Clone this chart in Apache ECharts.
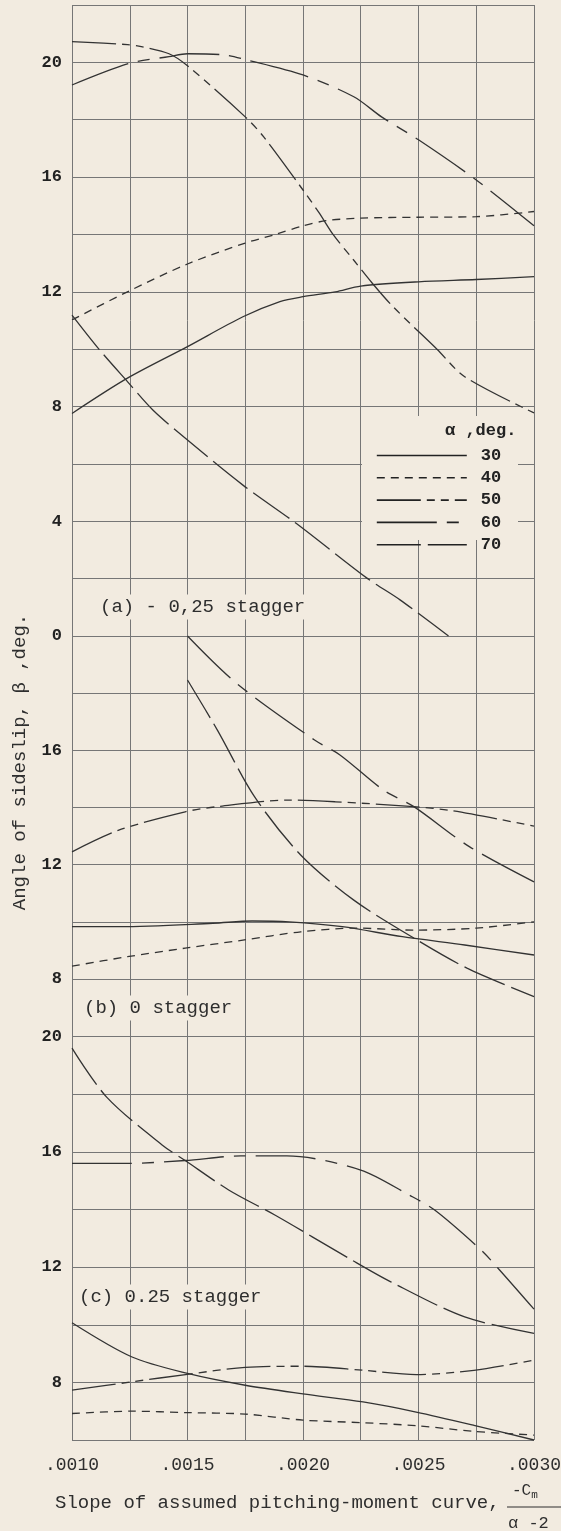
<!DOCTYPE html>
<html>
<head>
<meta charset="utf-8">
<script src="https://cdn.jsdelivr.net/npm/echarts@6/dist/echarts.min.js"></script>
<style>
html,body{margin:0;padding:0;background:#f2ebe0;}
#chart{width:561px;height:1531px;}
</style>
</head>
<body>
<div id="chart"></div>
<script>
// ---------- data ----------
const alphas = ['30', '40', '50', '60', '70'];
const xTickValues = [0.0010, 0.0015, 0.0020, 0.0025, 0.0030];
const xTickLabels = ['.0010', '.0015', '.0020', '.0025', '.0030'];
const panelAYTicks = [0, 4, 8, 12, 16, 20];
const panelBYTicks = [8, 12, 16];
const panelCYTicks = [8, 12, 16, 20];
const panelLabels = ['(a) - 0,25 stagger', '(b) 0 stagger', '(c) 0.25 stagger'];

// panel (a) -0.25 stagger
const a30x = [0.0010, 0.00124, 0.0015, 0.00174, 0.0019, 0.0020, 0.00214, 0.00225, 0.0025, 0.00275, 0.0030];
const a30y = [7.76, 8.99, 10.09, 11.13, 11.66, 11.83, 12.0, 12.2, 12.35, 12.43, 12.53];
const a40x = [0.0010, 0.00124, 0.0015, 0.00175, 0.00188, 0.0020, 0.0021, 0.00225, 0.0025, 0.00275, 0.0030];
const a40y = [11.02, 12.0, 12.97, 13.7, 14.0, 14.3, 14.48, 14.57, 14.6, 14.62, 14.8];
const a50x = [0.0010, 0.00124, 0.0013, 0.00142, 0.0015, 0.00175, 0.00183, 0.0020, 0.00207, 0.00213, 0.00222, 0.0023, 0.00239, 0.00258, 0.0027, 0.0030];
const a50y = [20.72, 20.62, 20.55, 20.3, 19.88, 18.1, 17.4, 15.55, 14.75, 14.0, 13.1, 12.3, 11.48, 10.0, 9.04, 7.78];
const a60x = [0.0010, 0.00125, 0.00142, 0.0015, 0.00166, 0.00175, 0.0020, 0.00222, 0.00234, 0.0025, 0.00275, 0.0030];
const a60y = [19.21, 19.97, 20.2, 20.3, 20.26, 20.1, 19.56, 18.8, 18.1, 17.3, 15.9, 14.3];
const a70x = [0.0010, 0.00112, 0.00124, 0.00135, 0.0015, 0.00174, 0.00197, 0.00228, 0.00242, 0.00263];
const a70y = [11.19, 9.97, 8.87, 7.88, 6.83, 5.26, 3.93, 2.0, 1.26, 0];

// panel (b) 0 stagger
const b30x = [0.0010, 0.00121, 0.00161, 0.00178, 0.00194, 0.00217, 0.00243, 0.0027, 0.0030];
const b30y = [9.83, 9.83, 9.95, 10.03, 10.0, 9.83, 9.48, 9.19, 8.84];
const b40x = [0.0010, 0.00124, 0.00149, 0.00174, 0.00199, 0.00223, 0.00248, 0.00275, 0.0030];
const b40y = [8.45, 8.78, 9.08, 9.36, 9.65, 9.78, 9.71, 9.78, 10.0];
const b50x = [0.0010, 0.0012, 0.00149, 0.00163, 0.00194, 0.00214, 0.00248, 0.00265, 0.0030];
const b50y = [12.45, 13.2, 13.85, 14.03, 14.26, 14.2, 14.03, 13.88, 13.35];
const b60x = [0.0015, 0.00171, 0.00205, 0.00216, 0.00235, 0.00248, 0.00272, 0.0030];
const b60y = [20.0, 18.36, 16.36, 15.84, 14.6, 14.03, 12.63, 11.4];
const b70x = [0.0015, 0.00163, 0.00179, 0.00199, 0.00222, 0.00248, 0.00271, 0.0030];
const b70y = [18.46, 16.7, 14.38, 12.34, 10.76, 9.43, 8.38, 7.38];

// panel (c) 0.25 stagger
const c30x = [0.0010, 0.00126, 0.0015, 0.00175, 0.0020, 0.00226, 0.00249, 0.00274, 0.0030];
const c30y = [10.07, 8.88, 8.31, 7.9, 7.6, 7.32, 6.97, 6.51, 6.0];
const c40x = [0.0010, 0.00126, 0.0015, 0.00175, 0.0020, 0.00226, 0.0025, 0.00274, 0.0030];
const c40y = [6.92, 7.0, 6.95, 6.9, 6.69, 6.6, 6.49, 6.3, 6.17];
const c50x = [0.0010, 0.00126, 0.0015, 0.00175, 0.0020, 0.00226, 0.00249, 0.00274, 0.0030];
const c50y = [7.73, 8.02, 8.28, 8.52, 8.56, 8.42, 8.27, 8.42, 8.77];
const c60x = [0.0010, 0.00124, 0.00149, 0.00173, 0.00193, 0.00225, 0.00246, 0.00257, 0.00277, 0.00284, 0.0030];
const c60y = [15.6, 15.6, 15.7, 15.86, 15.86, 15.37, 14.5, 13.98, 12.6, 12.0, 10.54];
const c70x = [0.0010, 0.00115, 0.00139, 0.00149, 0.00168, 0.00188, 0.0022, 0.00238, 0.0027, 0.0030];
const c70y = [19.6, 17.9, 16.24, 15.7, 14.67, 13.8, 12.3, 11.49, 10.27, 9.7];

// ---------- styles ----------
const PAPER = '#f2ebe0';
const INK = '#333333';
const GRIDC = '#767676';
const FONT = '"Liberation Mono", "DejaVu Sans Mono", monospace';
const dashes = {'30': 'solid', '40': [8, 6], '50': [44, 6, 8, 6, 8, 6], '60': [60, 10, 12, 10], '70': [44, 7]};

const L = 72, W = 462;
const grids = [
  {left: L, width: W, top: 5, height: 631, outerBoundsMode: 'none'},
  {left: L, width: W, top: 636, height: 343, outerBoundsMode: 'none'},
  {left: L, width: W, top: 979, height: 461, outerBoundsMode: 'none'}
];
const yRanges = [[0, 22], [8, 20], [6, 22]];
const yTicks = [panelAYTicks, panelBYTicks, panelCYTicks];

const xAxes = grids.map((g, i) => ({
  type: 'value', gridIndex: i, min: 0.0010, max: 0.0030, interval: 0.00025,
  axisLine: {show: false}, axisTick: {show: false},
  splitLine: {show: true, lineStyle: {color: GRIDC, width: 1}},
  axisLabel: {
    show: i === 2, margin: 16, color: '#2e2e2e', fontFamily: FONT, fontSize: 18,
    formatter: v => {
      const k = xTickValues.findIndex(t => Math.abs(t - v) < 1e-9);
      return k >= 0 ? xTickLabels[k] : '';
    }
  }
}));
const yAxes = grids.map((g, i) => ({
  type: 'value', gridIndex: i, min: yRanges[i][0], max: yRanges[i][1], interval: 2,
  axisLine: {show: false}, axisTick: {show: false},
  splitLine: {show: true, lineStyle: {color: GRIDC, width: 1}},
  axisLabel: {
    margin: 10, color: '#222', fontFamily: FONT, fontSize: 17, fontWeight: 'bold',
    formatter: v => yTicks[i].indexOf(Math.round(v)) >= 0 && Math.abs(v - Math.round(v)) < 1e-9 ? String(Math.round(v)) : ''
  }
}));

const curveSets = [
  [[a30x, a30y], [a40x, a40y], [a50x, a50y], [a60x, a60y], [a70x, a70y]],
  [[b30x, b30y], [b40x, b40y], [b50x, b50y], [b60x, b60y], [b70x, b70y]],
  [[c30x, c30y], [c40x, c40y], [c50x, c50y], [c60x, c60y], [c70x, c70y]]
];
const series = [];
curveSets.forEach((set, p) => {
  set.forEach((xy, k) => {
    series.push({
      type: 'line', name: alphas[k], xAxisIndex: p, yAxisIndex: p,
      data: xy[0].map((x, j) => [x, xy[1][j]]),
      smooth: 0.3, symbol: 'none', clip: false, silent: true,
      color: INK,
      lineStyle: {color: INK, width: 1.3, type: dashes[alphas[k]]},
      z: 3
    });
  });
});

const textBox = (text, x, y, extra) => Object.assign({
  type: 'text', x: x, y: y, z: 80,
  style: Object.assign({
    text: text, font: '19px ' + FONT, fill: '#2e2e2e',
    textVerticalAlign: 'middle', backgroundColor: PAPER, padding: [3, 4]
  }, extra || {})
});

const option = {
  backgroundColor: PAPER,
  animation: false,
  grid: grids,
  xAxis: xAxes,
  yAxis: yAxes,
  series: series,
  legend: {
    data: alphas, orient: 'vertical', left: 376, top: 447, z: 100,
    itemWidth: 90, itemHeight: 14, itemGap: 5.3, padding: 0,
    selectedMode: false,
    itemStyle: {opacity: 0, borderWidth: 0},
    lineStyle: {width: 1.6, color: '#222', opacity: 1},
    textStyle: {fontFamily: FONT, fontSize: 17, fontWeight: 'bold', color: '#222', lineHeight: 14, padding: [0, 0, 0, 9]}
  },
  graphic: [
    {type: 'rect', shape: {x: 362, y: 416, width: 156, height: 124}, style: {fill: PAPER}, z: 50, silent: true},
    {type: 'text', x: 445, y: 431, z: 100, style: {text: 'α ,deg.', font: 'bold 17px ' + FONT, fill: '#222', textVerticalAlign: 'middle'}},
    textBox(panelLabels[0], 96, 607),
    textBox(panelLabels[1], 80, 1008),
    textBox(panelLabels[2], 75, 1297),
    {type: 'text', x: 20, y: 762, rotation: Math.PI / 2, z: 80,
     style: {text: 'Angle of sideslip, β ,deg.', font: '19px ' + FONT, fill: '#2e2e2e', textAlign: 'center', textVerticalAlign: 'middle'}},
    {type: 'text', x: 55, y: 1503, z: 80,
     style: {text: 'Slope of assumed pitching-moment curve,', font: '19px ' + FONT, fill: '#2e2e2e', textVerticalAlign: 'middle'}},
    {type: 'text', x: 512, y: 1491, z: 80,
     style: {text: '-C{s|m}', font: '16px ' + FONT, fill: '#2e2e2e', textVerticalAlign: 'middle',
             rich: {s: {fontSize: 11, fontFamily: FONT, padding: [8, 0, 0, 0], fill: '#2e2e2e'}}}},
    {type: 'line', shape: {x1: 507, y1: 1507, x2: 561, y2: 1507}, style: {stroke: '#2e2e2e', lineWidth: 1.2}, z: 80},
    {type: 'text', x: 508, y: 1523, z: 80,
     style: {text: 'α -2', font: '17px ' + FONT, fill: '#2e2e2e', textVerticalAlign: 'middle'}}
  ]
};

const chart = echarts.init(document.getElementById('chart'), null, {renderer: 'canvas'});
chart.setOption(option);
</script>
</body>
</html>
